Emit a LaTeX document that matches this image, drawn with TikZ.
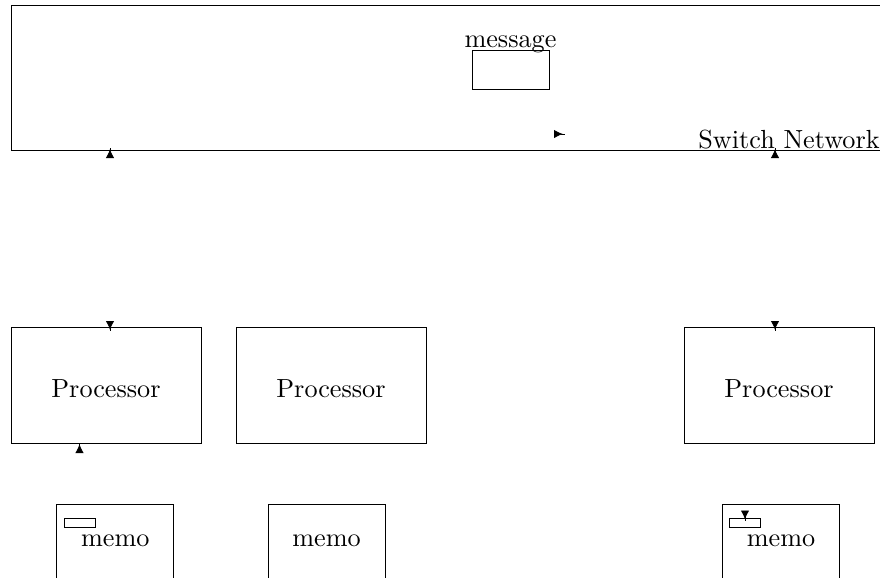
\documentclass[tikz,border=0pt]{standalone}
\usetikzlibrary{arrows.meta}
\begin{document}
\begin{tikzpicture}[
  x=0.3817pt, y=-0.3817pt,
  box/.style={draw, rectangle, inner sep=0pt, line width=0.35pt},
  proc/.style={box, minimum width=190*0.3817pt, minimum height=116*0.3817pt, text height=9.5pt},
  memobox/.style={box, minimum width=117*0.3817pt, minimum height=100*0.3817pt},
  slot/.style={box, minimum width=31*0.3817pt, minimum height=9*0.3817pt},
  msg/.style={line width=0.35pt, {Latex[length=3.4pt,width=3.2pt,reversed]}-}
]
\useasboundingbox (0,0) rectangle (880,577);

% switch network
\node[box, minimum width=890*0.3817pt, minimum height=145*0.3817pt] (sw) at (456,77.5) {};
\node[anchor=base] (swlabel) at (789,148) {Switch Network};
\node[box, minimum width=77*0.3817pt, minimum height=39*0.3817pt] (msgbox) at (510.5,69.5) {};
\node[anchor=base] (msglabel) at (510.5,47) {message};

% processors
\node[proc] (p1) at (106,385) {Processor};
\node[proc] (p2) at (331,385) {Processor};
\node[proc] (p3) at (779,385) {Processor};

% memories
\node[memobox] (m1) at (115.3,554) {};
\node[memobox] (m2) at (326.5,554) {};
\node[memobox] (m3) at (780.7,554) {};
\node (m1t) at (115.3,541) {memo};
\node (m2t) at (326.5,541) {memo};
\node (m3t) at (781,541) {memo};
\node[slot] (s1) at (80,523) {};
\node[slot] (s3) at (745,522.8) {};

% messages in flight
\coordinate (a1s) at (110,158);   \coordinate (a1e) at (110,148);
\coordinate (a2s) at (775,158);   \coordinate (a2e) at (775,148);
\coordinate (a3s) at (110,321);   \coordinate (a3e) at (110,331);
\coordinate (a4s) at (775,321);   \coordinate (a4e) at (775,331);
\coordinate (a5s) at (79.5,453);  \coordinate (a5e) at (79.5,443);
\coordinate (a6s) at (745,510.5); \coordinate (a6e) at (745,520.5);
\coordinate (a7s) at (554,134);   \coordinate (a7e) at (565,134);

\draw[msg] (a1s) -- (a1e);
\draw[msg] (a2s) -- (a2e);
\draw[msg] (a3s) -- (a3e);
\draw[msg] (a4s) -- (a4e);
\draw[msg] (a5s) -- (a5e);
\draw[msg] (a6s) -- (a6e);
\draw[msg] (a7s) -- (a7e);
\end{tikzpicture}
\end{document}
